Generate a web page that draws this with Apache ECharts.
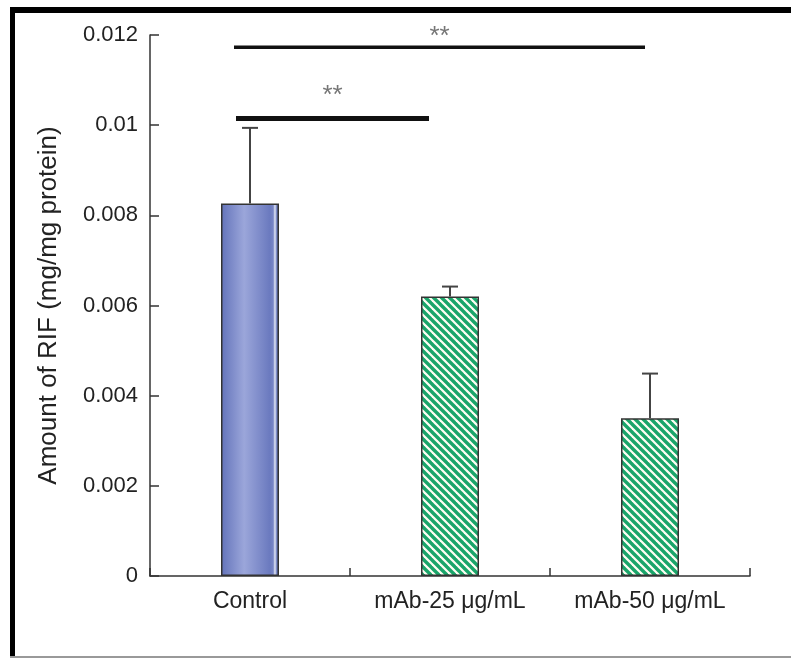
<!DOCTYPE html>
<html>
<head>
<meta charset="utf-8">
<script src="https://cdn.jsdelivr.net/npm/echarts@6/dist/echarts.min.js"></script>
<style>
  html, body { margin: 0; padding: 0; background: #fff; }
  #chart { width: 791px; height: 658px; }
</style>
</head>
<body>
<div id="chart"></div>
<script>
// Groups and measured RIF amounts (mg/mg protein)
const categories = ['Control', 'mAb-25 \u03bcg/mL', 'mAb-50 \u03bcg/mL'];
const means = [0.00826, 0.0062, 0.0035];
const errors = [0.00168, 0.00022, 0.00099];
const yTicks = [0, 0.002, 0.004, 0.006, 0.008, 0.01, 0.012];

// Significance brackets: [from group, to group, level, label]
const brackets = [
  [-0.08, 1.975, 0.01173, '**'],
  [-0.07, 0.895, 0.01015, '**']
];

const FONT = '"Liberation Sans", Arial, sans-serif';
const TEXT = '#222';
const AXIS = '#333';

// Diagonal striped tile for the antibody-treated groups
function stripeTile() {
  const c = document.createElement('canvas');
  const s = 8;
  c.width = s; c.height = s;
  const g = c.getContext('2d');
  g.fillStyle = '#fffef4';
  g.fillRect(0, 0, s, s);
  g.strokeStyle = '#1aa56a';
  g.lineWidth = 3.4;
  g.lineCap = 'square';
  [[-s, 0], [0, 0], [s, 0]].forEach(([ox, oy]) => {
    g.beginPath();
    g.moveTo(ox, oy);
    g.lineTo(ox + s, oy + s);
    g.stroke();
  });
  return c;
}
const stripe = { image: stripeTile(), repeat: 'repeat' };

const controlFill = new echarts.graphic.LinearGradient(0, 0, 1, 0, [
  { offset: 0, color: '#6373ba' },
  { offset: 0.4, color: '#9ba6da' },
  { offset: 0.84, color: '#6b7abf' },
  { offset: 0.9, color: '#7886c6' },
  { offset: 0.93, color: '#e4e8f6' },
  { offset: 0.96, color: '#7383c3' },
  { offset: 1, color: '#5867af' }
]);

const barData = means.map((v, i) => ({
  value: v,
  itemStyle: { color: i === 0 ? controlFill : stripe }
}));

const chart = echarts.init(document.getElementById('chart'), null, { renderer: 'canvas' });

chart.setOption({
  animation: false,
  backgroundColor: '#fff',
  grid: { left: 150, right: 41, top: 35, bottom: 82, containLabel: false },
  xAxis: [{
    type: 'category',
    data: categories,
    axisLine: { onZero: false, lineStyle: { color: AXIS, width: 1.5 } },
    axisTick: { show: true, inside: true, length: 8, lineStyle: { color: AXIS, width: 1.5 } },
    axisLabel: { color: TEXT, fontFamily: FONT, fontSize: 23, margin: 14 }
  }, {
    type: 'value', min: -0.5, max: 2.5, show: false, position: 'bottom',
    axisLine: { onZero: false }
  }],
  yAxis: {
    type: 'value',
    min: 0, max: 0.012, interval: 0.002,
    name: 'Amount of RIF (mg/mg protein)',
    nameLocation: 'middle',
    nameGap: 88,
    nameTextStyle: { color: TEXT, fontFamily: FONT, fontSize: 26 },
    axisLine: { show: true, onZero: false, lineStyle: { color: AXIS, width: 1.5 } },
    axisTick: { show: true, inside: true, length: 9, lineStyle: { color: AXIS, width: 1.5 } },
    splitLine: { show: false },
    axisLabel: {
      color: TEXT, fontFamily: FONT, fontSize: 22, margin: 12,
      formatter: v => {
        const t = yTicks.find(k => Math.abs(k - v) < 1e-9);
        return t === undefined ? '' : String(t);
      }
    }
  },
  series: [{
    type: 'bar',
    data: barData,
    barWidth: 58,
    itemStyle: { borderColor: '#333', borderWidth: 1.5 },
    z: 2
  }, {
    // error bars (upper whisker with cap)
    type: 'custom',
    data: means.map((v, i) => [i, v, v + errors[i]]),
    z: 3,
    renderItem: (params, api) => {
      const base = api.coord([api.value(0), api.value(1)]);
      const top = api.coord([api.value(0), api.value(2)]);
      const half = 8;
      return {
        type: 'group',
        children: [{
          type: 'line',
          shape: { x1: base[0], y1: base[1], x2: top[0], y2: top[1] },
          style: { stroke: '#444', lineWidth: 2 }
        }, {
          type: 'line',
          shape: { x1: top[0] - half, y1: top[1], x2: top[0] + half, y2: top[1] },
          style: { stroke: '#444', lineWidth: 2 }
        }]
      };
    }
  }, {
    // significance brackets
    type: 'custom',
    xAxisIndex: 1,
    data: brackets,
    z: 4,
    renderItem: (params, api) => {
      const a = api.coord([api.value(0), api.value(2)]);
      const b = api.coord([api.value(1), api.value(2)]);
      const thick = params.dataIndex === 0 ? 3.5 : 5;
      const starGap = params.dataIndex === 0 ? 10 : 23;
      return {
        type: 'group',
        children: [{
          type: 'line',
          shape: { x1: a[0], y1: a[1], x2: b[0], y2: b[1] },
          style: { stroke: '#111', lineWidth: thick }
        }, {
          type: 'text',
          style: {
            x: (a[0] + b[0]) / 2, y: a[1] - starGap,
            text: brackets[params.dataIndex][3],
            fill: '#767676', font: '26px ' + FONT,
            align: 'center', verticalAlign: 'middle'
          }
        }]
      };
    }
  }],
  graphic: [
    { type: 'rect', shape: { x: 10, y: 7, width: 781, height: 6 }, style: { fill: '#000' }, silent: true },
    { type: 'rect', shape: { x: 10, y: 7, width: 5, height: 651 }, style: { fill: '#000' }, silent: true },
    { type: 'rect', shape: { x: 10, y: 656, width: 781, height: 2 }, style: { fill: '#999' }, silent: true }
  ]
});
</script>
</body>
</html>
